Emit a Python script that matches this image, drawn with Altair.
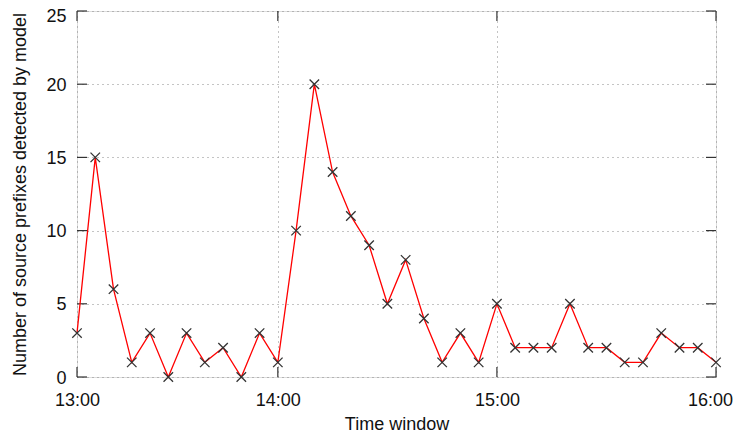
import altair as alt
import pandas as pd

# Data: one value per time window (index 0..35)
counts = [3, 15, 6, 1, 3, 0, 3, 1, 2, 0, 3, 1,
          10, 20, 14, 11, 9, 5, 8, 4, 1, 3, 1,
          5, 2, 2, 2, 5, 2, 2, 1, 1, 3, 2, 2, 1]
windows = list(range(len(counts)))

x_tick_positions = [0, 11, 23, 35]
x_tick_labels = ["13:00", "14:00", "15:00", "16:00"]
y_tick_values = [0, 5, 10, 15, 20, 25]

df = pd.DataFrame({"w": windows, "n": counts})
df_xt = pd.DataFrame({"t": x_tick_positions})
df_yt = pd.DataFrame({"v": y_tick_values})

W, H = 639, 366
FONT = "Liberation Sans"
TICK = 10

label_expr = ""
for p, l in zip(x_tick_positions, x_tick_labels):
    label_expr += f"datum.value == {p} ? '{l}' : "
label_expr += "''"

xscale = alt.Scale(domain=[0, 35], nice=False, zero=False)
yscale = alt.Scale(domain=[0, 25], nice=False)

x_axis = alt.Axis(values=x_tick_positions, labelExpr=label_expr, ticks=False,
                  domain=False, grid=True, gridDash=[1, 4], gridColor="#888",
                  gridWidth=1, labelFontSize=18, labelFont=FONT, labelColor="#111",
                  labelPadding=14, labelFlush=False, labelOverlap=False,
                  labelOffset=alt.condition("datum.value == 35", alt.value(-6), alt.value(0)),
                  title="Time window", titleFont=FONT,
                  titleFontSize=18, titleFontWeight="normal", titleColor="#111",
                  titleBaseline="alphabetic", titleY=52)
y_axis = alt.Axis(values=y_tick_values, ticks=False, domain=False, grid=True,
                  gridDash=[1, 4], gridColor="#888", gridWidth=1,
                  labelFontSize=18, labelFont=FONT, labelColor="#111",
                  labelPadding=11, labelFlush=False, labelOverlap=False,
                  labelOffset=alt.condition("datum.value == 25", alt.value(5), alt.value(1)),
                  title="Number of source prefixes detected by model",
                  titleFont=FONT, titleFontSize=18, titleFontWeight="normal",
                  titleColor="#111", titleX=-52, titleBaseline="alphabetic")

base = alt.Chart(df)
line = base.mark_line(color="#ff0000", strokeWidth=1.3).encode(
    x=alt.X("w:Q", scale=xscale, axis=x_axis),
    y=alt.Y("n:Q", scale=yscale, axis=y_axis),
)
pts = base.mark_point(shape="M-1,-1L1,1M-1,1L1,-1", filled=False, color="#333",
                      strokeWidth=1.3, size=90, opacity=1).encode(
    x=alt.X("w:Q", scale=xscale), y=alt.Y("n:Q", scale=yscale))

lt = alt.Chart(df_yt).mark_rule(color="#333", strokeWidth=1.2).encode(
    y=alt.Y("v:Q", scale=yscale), x=alt.value(0), x2=alt.value(TICK))
rt = alt.Chart(df_yt).mark_rule(color="#333", strokeWidth=1.2).encode(
    y=alt.Y("v:Q", scale=yscale), x=alt.value(W - TICK), x2=alt.value(W))
bt = alt.Chart(df_xt).mark_rule(color="#333", strokeWidth=1.2).encode(
    x=alt.X("t:Q", scale=xscale), y=alt.value(H - TICK), y2=alt.value(H))
tt = alt.Chart(df_xt).mark_rule(color="#333", strokeWidth=1.2).encode(
    x=alt.X("t:Q", scale=xscale), y=alt.value(0), y2=alt.value(TICK))

chart = alt.layer(lt, rt, bt, tt, line, pts).properties(
    width=W, height=H,
    autosize=alt.AutoSizeParams(type="none"),
    padding={"left": 69, "top": 3, "right": 17, "bottom": 58},
).configure_view(stroke="#333", strokeWidth=1.5).configure(background="white")

chart.save("out.html", embed_options={"renderer": "svg", "actions": False})
